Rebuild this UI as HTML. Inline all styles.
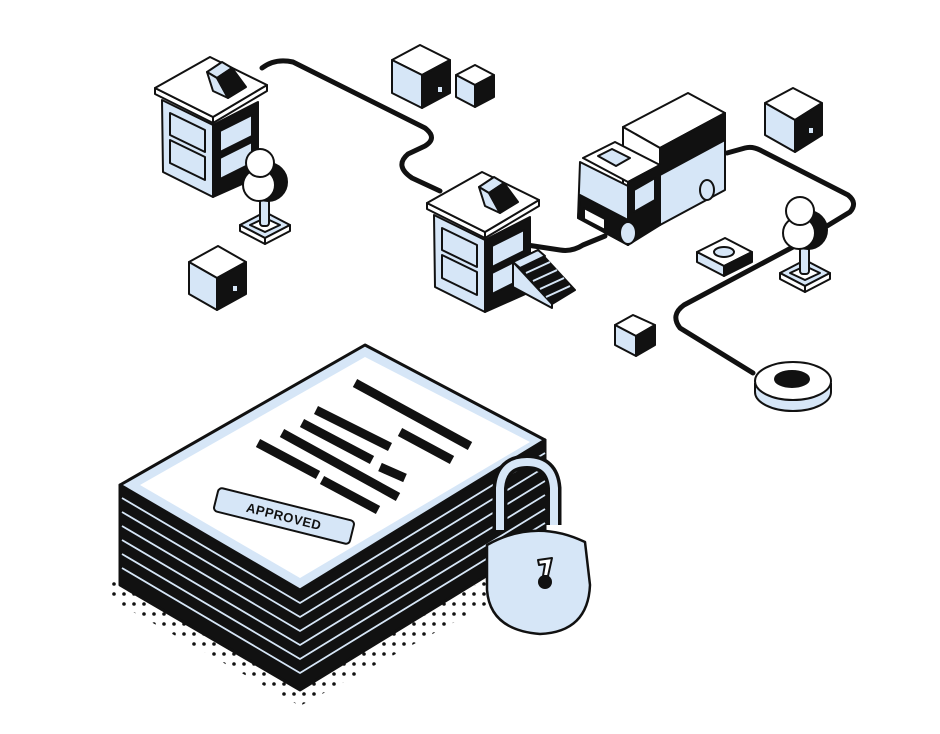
<!DOCTYPE html>
<html><head><meta charset="utf-8"><style>
html,body{margin:0;padding:0;background:#fff;}
svg{display:block;}
</style></head><body>
<svg width="940" height="734" viewBox="0 0 940 734" xmlns="http://www.w3.org/2000/svg">
<defs>
<pattern id="dots" width="10" height="10" patternUnits="userSpaceOnUse">
<circle cx="4" cy="4" r="1.8" fill="#111"/>
</pattern>
<g id="bld" stroke="#111" stroke-width="2" stroke-linejoin="round">
<polygon points="162,100 213,125 213,197 163,172" fill="#d6e6f7"/>
<polygon points="213,125 258,102 258,177 213,197" fill="#111"/>
<polygon points="170,113 205,130 205,152 170,135" fill="#d6e6f7"/>
<polygon points="170,140 205,157 205,180 170,163" fill="#d6e6f7"/>
<polygon points="220,131 252,115 252,136 220,152" fill="#d6e6f7"/>
<polygon points="220,158 252,142 252,163 220,179" fill="#d6e6f7"/>
<polygon points="155,88 213,117 213,123 155,94" fill="#fff"/>
<polygon points="213,117 267,85 267,91 213,123" fill="#fff"/>
<polygon points="155,88 210,57 267,85 213,117" fill="#fff"/>
<polygon points="207,72 222,62 232,68 217,78" fill="#d6e6f7"/>
<polygon points="207,72 217,78 228,98 213,91" fill="#d6e6f7"/>
<polygon points="217,78 232,68 246,87 228,98" fill="#111"/>
</g>
<g id="tree" stroke="#111" stroke-width="2" stroke-linejoin="round">
<polygon points="240,225 265,212 290,225 265,238" fill="#d6e6f7"/>
<polygon points="240,225 265,238 265,244 240,231" fill="#fff"/>
<polygon points="265,238 290,225 290,231 265,244" fill="#fff"/>
<polygon points="250,225 265,218 280,225 265,232" fill="#fff"/>
<rect x="260" y="192" width="9" height="34" rx="3" fill="#d6e6f7"/>
<circle cx="268" cy="182" r="19" fill="#111"/>
<circle cx="259" cy="185" r="16" fill="#fff"/>
<circle cx="260" cy="163" r="14" fill="#fff"/>
</g>
</defs>
<rect width="940" height="734" fill="#fff"/>

<g fill="none" stroke="#111" stroke-width="5" stroke-linecap="round" stroke-linejoin="round">
<path d="M262,68 Q275,58 293,62 L425,128 Q438,138 425,146 L408,154 Q394,166 412,178 L440,191"/>
<path d="M527,245 L560,250 Q572,252 583,245 L605,236"/>
<path d="M727,153 L745,148 Q752,146 760,150 L848,195 Q858,203 850,212 L827,226"/>
<path d="M793,247 L684,305 Q670,315 680,328 L753,373"/>
</g>

<g stroke="#111" stroke-width="2" stroke-linejoin="round">
<polygon points="420,45 450,60 422,75 392,60" fill="#fff"/>
<polygon points="392,60 422,75 422,108 392,93" fill="#d6e6f7"/>
<polygon points="422,75 450,60 450,93 422,108" fill="#111"/>
<rect x="437" y="86" width="6" height="7" fill="#d6e6f7"/>
<polygon points="475,65 494,75 475,85 456,75" fill="#fff"/>
<polygon points="456,75 475,85 475,107 456,97" fill="#d6e6f7"/>
<polygon points="475,85 494,75 494,97 475,107" fill="#111"/>
<polygon points="218,246 246,262 217,278 189,262" fill="#fff"/>
<polygon points="189,262 217,278 217,310 189,294" fill="#d6e6f7"/>
<polygon points="217,278 246,262 246,294 217,310" fill="#111"/>
<rect x="232" y="285" width="6" height="7" fill="#d6e6f7"/>
<polygon points="793,88 822,103 795,120 765,103" fill="#fff"/>
<polygon points="765,103 795,120 795,152 765,135" fill="#d6e6f7"/>
<polygon points="795,120 822,103 822,135 795,152" fill="#111"/>
<rect x="808" y="127" width="6" height="7" fill="#d6e6f7"/>
<polygon points="633,315 655,325 636,336 615,325" fill="#fff"/>
<polygon points="615,325 636,336 636,356 615,345" fill="#d6e6f7"/>
<polygon points="636,336 655,325 655,345 636,356" fill="#111"/>
</g>

<use href="#bld"/>
<g transform="translate(272,115)"><use href="#bld"/></g>
<!-- stairs -->
<g stroke="#111" stroke-width="2" stroke-linejoin="round">
<polygon points="513,262 538,250 575,290 552,304" fill="#111"/>
<polygon points="513,262 552,304 552,308 513,287" fill="#d6e6f7"/>
<polygon points="513,262 538,250 545,256 520,268" fill="#d6e6f7"/>
<line x1="526" y1="273" x2="550" y2="262" stroke="#d6e6f7"/>
<line x1="533" y1="281" x2="557" y2="270" stroke="#d6e6f7"/>
<line x1="540" y1="289" x2="564" y2="278" stroke="#d6e6f7"/>
<line x1="546" y1="297" x2="570" y2="286" stroke="#d6e6f7"/>
</g>

<use href="#tree"/>
<g transform="translate(540,48)"><use href="#tree"/></g>

<g stroke="#111" stroke-width="2" stroke-linejoin="round">
<polygon points="623,127 688,93 725,113 660,148" fill="#fff"/>
<polygon points="623,127 660,148 660,225 623,205" fill="#fff"/>
<polygon points="660,148 725,113 725,190 660,225" fill="#d6e6f7"/>
<polygon points="660,148 725,113 725,140 660,175" fill="#111"/>
<polygon points="583,158 615,142 660,165 628,182" fill="#fff"/>
<polygon points="598,156 612,149 630,158 616,166" fill="#d6e6f7"/>
<polygon points="580,162 628,186 628,245 578,218" fill="#d6e6f7"/>
<polygon points="580,195 628,220 628,245 578,218" fill="#111"/>
<polygon points="584,208 605,219 605,230 584,219" fill="#fff"/>
<polygon points="628,182 660,165 660,225 628,245" fill="#111"/>
<polygon points="634,190 655,178 655,200 634,212" fill="#d6e6f7"/>
<ellipse cx="628" cy="233" rx="8" ry="11" fill="#d6e6f7"/>
<ellipse cx="707" cy="190" rx="7" ry="10" fill="#d6e6f7"/>
</g>

<g stroke="#111" stroke-width="2" stroke-linejoin="round">
<polygon points="697,252 725,238 752,252 724,266" fill="#fff"/>
<polygon points="697,252 724,266 724,276 697,262" fill="#d6e6f7"/>
<polygon points="724,266 752,252 752,262 724,276" fill="#111"/>
<ellipse cx="724" cy="252" rx="10" ry="5" fill="#d6e6f7"/>
</g>

<g stroke="#111" stroke-width="2">
<path d="M755,383 L755,392 A38 19 0 0 0 831,392 L831,383" fill="#d6e6f7"/>
<ellipse cx="793" cy="381" rx="38" ry="19" fill="#fff"/>
<ellipse cx="792" cy="379" rx="17" ry="8" fill="#111"/>
</g>

<polygon points="112,582 122,576 300,676 495,575 495,600 300,706 112,600" fill="url(#dots)"/>

<g stroke-linejoin="round">
<polygon points="120,485 300,590 545,440 545,540 300,690 120,585" fill="#111" stroke="#111" stroke-width="3"/>
<g fill="none" stroke="#d6e6f7" stroke-width="1.8">
<polyline points="122,498 300,603 545,453"/>
<polyline points="122,512 300,617 545,467"/>
<polyline points="122,526 300,631 545,481"/>
<polyline points="122,540 300,645 545,495"/>
<polyline points="122,554 300,659 545,509"/>
<polyline points="122,568 300,673 545,523"/>
</g>
<polygon points="120,485 365,345 545,440 300,590" fill="#d6e6f7" stroke="#111" stroke-width="3"/>
<polygon points="140,485 365,357 530,442 300,578" fill="#fff"/>
</g>
<g stroke="#111" stroke-width="9">
<line x1="355" y1="383" x2="470" y2="446"/>
<line x1="316" y1="410" x2="390" y2="447"/>
<line x1="400" y1="432" x2="452" y2="460"/>
<line x1="302" y1="423" x2="372" y2="460"/>
<line x1="380" y1="467" x2="405" y2="478"/>
<line x1="282" y1="433" x2="398" y2="497"/>
<line x1="258" y1="443" x2="318" y2="475"/>
<line x1="322" y1="480" x2="378" y2="510"/>
</g>
<g transform="translate(284,516) rotate(14)">
<rect x="-70" y="-12" width="140" height="24" rx="4" fill="#d6e6f7" stroke="#111" stroke-width="2"/>
<text x="0" y="5" text-anchor="middle" font-family="Liberation Sans, sans-serif" font-weight="bold" font-size="13" fill="#111" letter-spacing="0.5">APPROVED</text>
</g>

<g stroke-linejoin="round">
<path d="M500,530 L500,488 Q502,462 527,462 Q552,462 554,488 L554,525" fill="none" stroke="#111" stroke-width="15"/>
<path d="M500,530 L500,488 Q502,462 527,462 Q552,462 554,488 L554,525" fill="none" stroke="#d6e6f7" stroke-width="8"/>
<path d="M487,545 Q535,518 585,542 L590,585 Q588,632 540,634 Q490,630 487,590 Z" fill="#d6e6f7" stroke="#111" stroke-width="2.5"/>
<circle cx="545" cy="582" r="7" fill="#111"/>
<path d="M538,560 L552,558 L548,576 L543,576 L545,564 L539,565 Z" fill="#fff" stroke="#111" stroke-width="2"/>
</g>
</svg>
</body></html>
